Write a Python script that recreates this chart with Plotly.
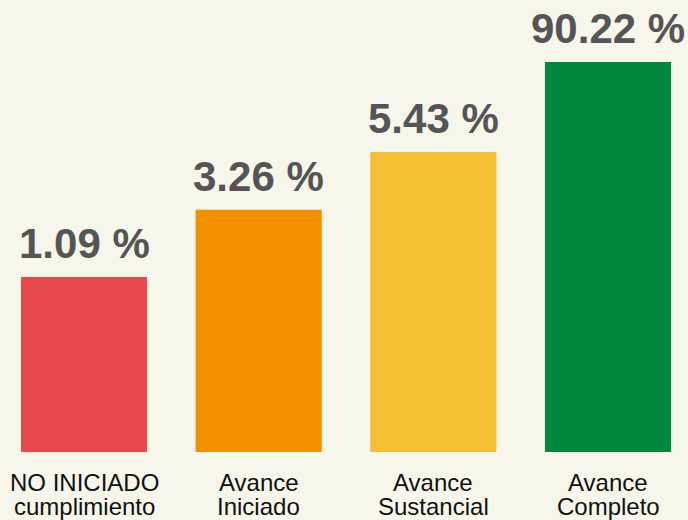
import plotly.graph_objects as go

categories_line1 = ["NO INICIADO", "Avance", "Avance", "Avance"]
categories_line2 = ["cumplimiento", "Iniciado", "Sustancial", "Completo"]
percentages = [1.09, 3.26, 5.43, 90.22]
bar_heights = [44.9, 62.1, 76.9, 100.0]
colors = ["#E5494B", "#F29000", "#F6BE35", "#02873F"]

x = list(range(len(percentages)))

fig = go.Figure(go.Bar(
    x=x, y=bar_heights, width=0.722,
    marker=dict(color=colors, line=dict(width=0)),
    hoverinfo="skip",
))

FONT = "Liberation Sans, Arial, sans-serif"
ann = []
for i, (h, p) in enumerate(zip(bar_heights, percentages)):
    ann.append(dict(x=i, y=h, xref="x", yref="y", yanchor="bottom", yshift=8,
                    text=f"<b>{p:.2f} %</b>", showarrow=False,
                    font=dict(size=42, color="#555555", family=FONT)))
    ann.append(dict(x=i, y=-7.9, xref="x", yref="y", yanchor="middle",
                    text=categories_line1[i], showarrow=False,
                    font=dict(size=24, color="#111111", family=FONT)))
    ann.append(dict(x=i, y=-14.1, xref="x", yref="y", yanchor="middle",
                    text=categories_line2[i], showarrow=False,
                    font=dict(size=24, color="#111111", family=FONT)))

fig.update_layout(
    width=688, height=520,
    margin=dict(l=0, r=0, t=0, b=0),
    paper_bgcolor="#F6F6EB", plot_bgcolor="#F6F6EB",
    xaxis=dict(range=[-0.481, 3.458], visible=False, fixedrange=True),
    yaxis=dict(range=[-17.44, 115.9], visible=False, fixedrange=True),
    annotations=ann,
    showlegend=False,
)

fig.write_html("out.html", config={"displayModeBar": False},
               post_script="document.body.style.margin='0';document.body.style.overflow='hidden';")
